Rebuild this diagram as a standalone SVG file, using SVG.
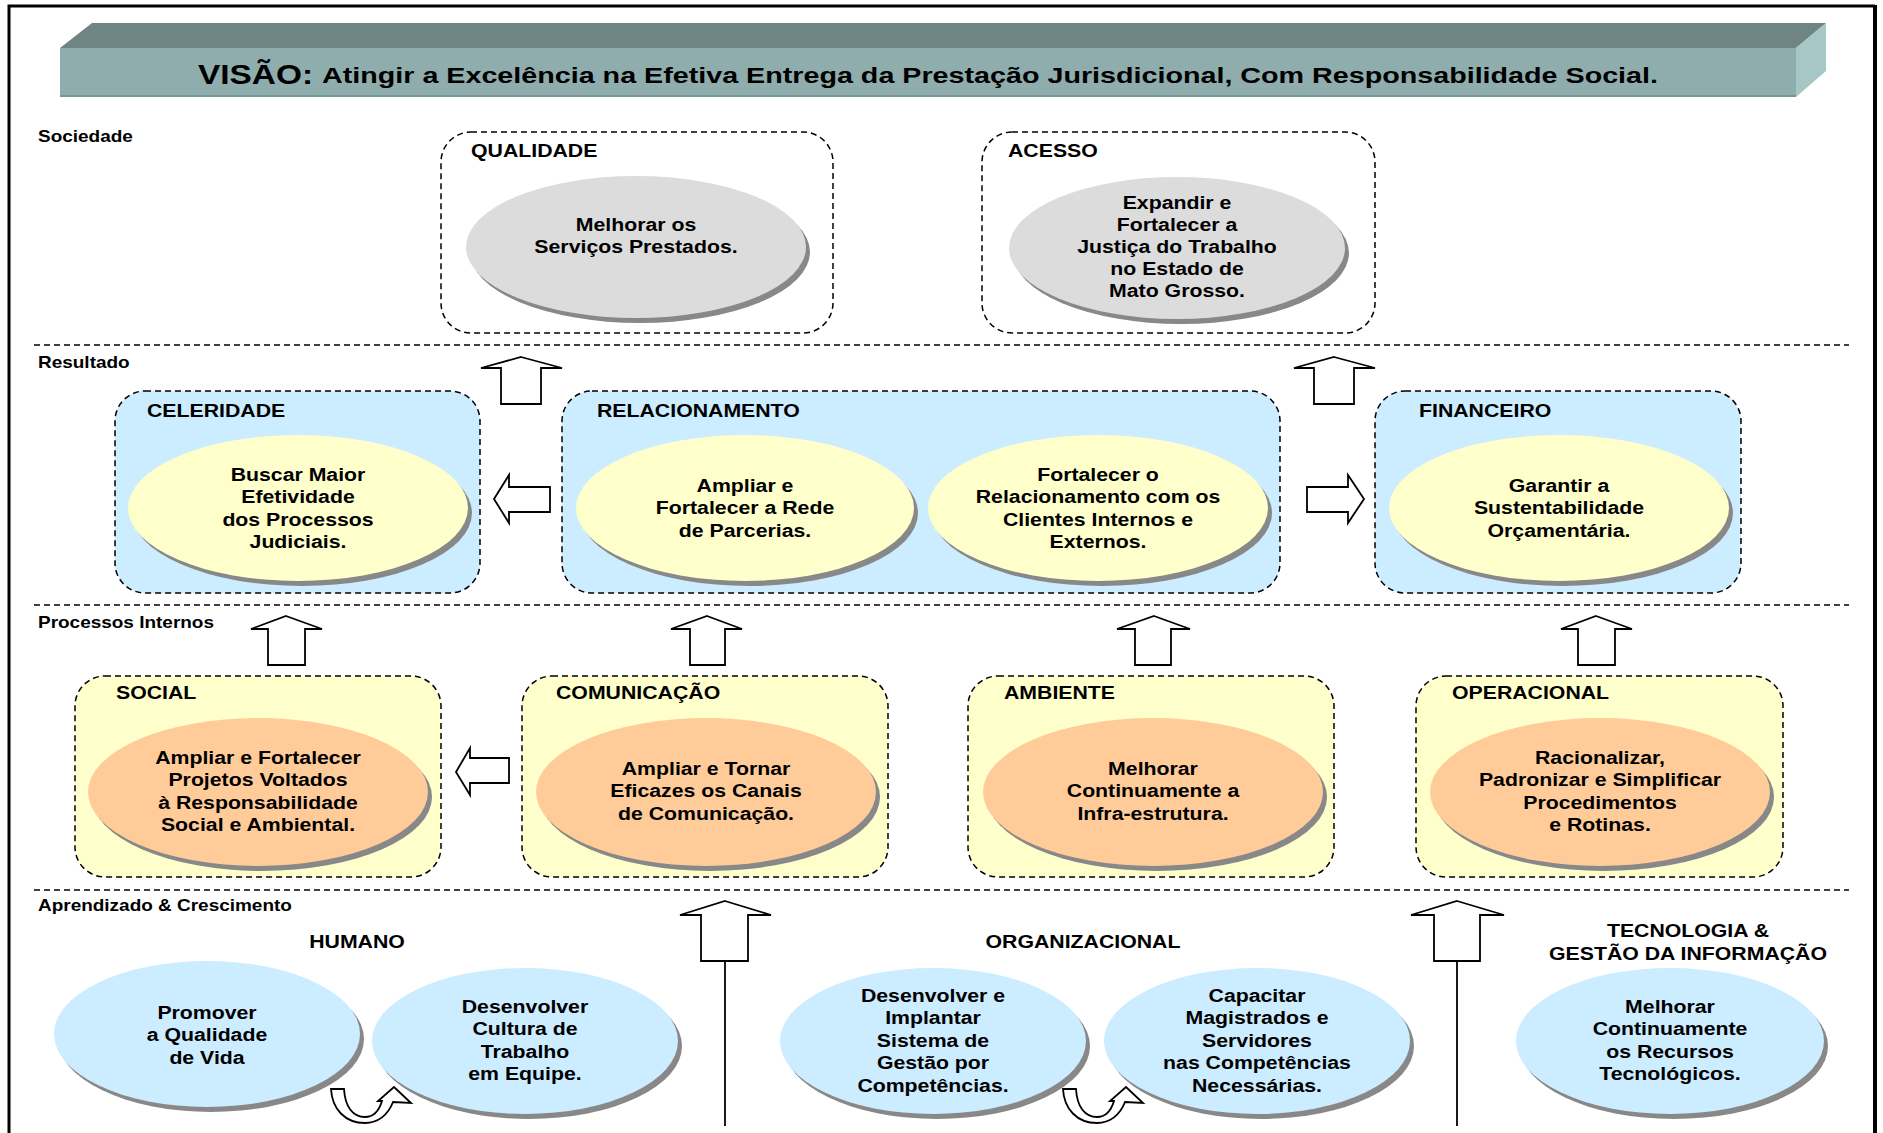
<svg xmlns="http://www.w3.org/2000/svg" width="1883" height="1133" viewBox="0 0 1883 1133">
<defs>
<style>
text{font-family:"Liberation Sans",Arial,sans-serif;font-weight:bold;fill:#000}
.c{font-size:18.5px;text-anchor:middle}
.l{font-size:18.5px}
.s{font-size:16.5px}
.box{stroke:#000;stroke-width:1.5;stroke-dasharray:6 4}
.blue{fill:#CCECFF}
.yel{fill:#FFFFCC}
.none{fill:none}
.sh{fill:#888}
.eg{fill:#DCDCDC}
.ey{fill:#FFFFCC}
.eo{fill:#FFCC99}
.eb{fill:#CCECFF}
.div{stroke:#000;stroke-width:1.5;stroke-dasharray:6 4}
.arr{fill:#fff;stroke:#000;stroke-width:1.8;stroke-linejoin:miter}
.ln{stroke:#000;stroke-width:1.8}
</style>
</defs>
<rect width="1883" height="1133" fill="#fff"/>
<path d="M9,1133 V6 H1875" fill="none" stroke="#000" stroke-width="3"/>
<line x1="1875" y1="5" x2="1875" y2="1133" stroke="#000" stroke-width="4"/>

<g id="visao">
<polygon points="92,23 1826,23 1796,48 60,48" fill="#6E8584"/>
<rect x="60" y="48" width="1736" height="49" fill="#8FADAD"/>
<line x1="60" y1="96" x2="1796" y2="96" stroke="#7A9797" stroke-width="2"/>
<polygon points="1796,48 1826,23 1826,71 1796,97" fill="#A7C7C7"/>
<text x="198" y="84" style="font-size:27px" textLength="115" lengthAdjust="spacingAndGlyphs">VISÃO:</text>
<text x="322" y="83" style="font-size:22px" textLength="1336" lengthAdjust="spacingAndGlyphs">Atingir a Excelência na Efetiva Entrega da Prestação Jurisdicional, Com Responsabilidade Social.</text>
</g>

<g id="secoes">
<text class="s" transform="translate(38,142) scale(1.15,1)">Sociedade</text>
<text class="s" transform="translate(38,368) scale(1.15,1)">Resultado</text>
<text class="s" transform="translate(38,628) scale(1.15,1)">Processos Internos</text>
<text class="s" transform="translate(38,911) scale(1.15,1)">Aprendizado &amp; Crescimento</text>
<line class="div" x1="34" y1="345" x2="1849" y2="345"/>
<line class="div" x1="34" y1="605" x2="1849" y2="605"/>
<line class="div" x1="34" y1="890" x2="1849" y2="890"/>
</g>

<g id="connectors">
<polygon class="arr" points="521,357 562,368 541,368 541,404 501,404 501,368 481,368"/>
<polygon class="arr" points="1334,357 1375,368 1354,368 1354,404 1314,404 1314,368 1294,368"/>
<polygon class="arr" points="494,499 509,475 509,487 550,487 550,512 509,512 509,523"/>
<polygon class="arr" points="1364,499 1348,475 1348,487 1307,487 1307,512 1348,512 1348,523"/>
<path class="arr" d="M861,439 C861,422 893,414 932,414 C963,414 993,421 1005,432 L1020,432 L990,440 L955,432 L969,432 C960,424 948,416 932,416 C910,416 895,426 893,439 Z"/>
<polygon class="arr" points="286,616 322,629 305,629 305,665 268,665 268,629 251,629"/>
<polygon class="arr" points="707,616 742,629 725,629 725,665 690,665 690,629 671,629"/>
<polygon class="arr" points="1154,616 1190,629 1171,629 1171,665 1135,665 1135,629 1117,629"/>
<polygon class="arr" points="1596,616 1632,629 1615,629 1615,665 1578,665 1578,629 1561,629"/>
<polygon class="arr" points="456,772 470,748 470,758 509,758 509,783 470,783 470,795"/>
<polygon class="arr" points="725,901 771,915 748,915 748,961 701,961 701,915 680,915"/>
<line class="ln" x1="725" y1="961" x2="725" y2="1126"/>
<polygon class="arr" points="1457,901 1504,915 1480,915 1480,961 1434,961 1434,915 1411,915"/>
<line class="ln" x1="1457" y1="961" x2="1457" y2="1126"/>
<path class="arr" transform="translate(331,1087)" d="M0,2 L13,2 C14,20 22,30 34,30 C42,30 48,24 51,14 L47,14 L63,0 L80,16 L62,15 C57,28 47,36 34,36 C14,36 1,22 0,2 Z"/>
<path class="arr" transform="translate(1063,1087)" d="M0,2 L13,2 C14,20 22,30 34,30 C42,30 48,24 51,14 L47,14 L63,0 L80,16 L62,15 C57,28 47,36 34,36 C14,36 1,22 0,2 Z"/>
</g>

<g id="qualidade">
<rect class="box none" x="441" y="132" width="392" height="201" rx="30"/>
<text class="l" transform="translate(471,157) scale(1.15,1)">QUALIDADE</text>
<ellipse class="sh" cx="640" cy="252" rx="170" ry="71"/>
<ellipse class="eg" cx="636" cy="247" rx="170" ry="71"/>
<text class="c" transform="translate(636,231) scale(1.15,1)"><tspan x="0" y="0">Melhorar os</tspan><tspan x="0" y="22">Serviços Prestados.</tspan></text>
</g>

<g id="acesso">
<rect class="box none" x="982" y="132" width="393" height="201" rx="30"/>
<text class="l" transform="translate(1008,157) scale(1.15,1)">ACESSO</text>
<ellipse class="sh" cx="1181" cy="253" rx="168" ry="71"/>
<ellipse class="eg" cx="1177" cy="248" rx="168" ry="71"/>
<text class="c" transform="translate(1177,209) scale(1.15,1)"><tspan x="0" y="0">Expandir e</tspan><tspan x="0" y="22">Fortalecer a</tspan><tspan x="0" y="44">Justiça do Trabalho</tspan><tspan x="0" y="66">no Estado de</tspan><tspan x="0" y="88">Mato Grosso.</tspan></text>
</g>

<g id="celeridade">
<rect class="box blue" x="115" y="391" width="365" height="202" rx="30"/>
<text class="l" transform="translate(147,417) scale(1.15,1)">CELERIDADE</text>
<ellipse class="sh" cx="302" cy="513" rx="170" ry="73"/>
<ellipse class="ey" cx="298" cy="508" rx="170" ry="73"/>
<text class="c" transform="translate(298,481) scale(1.15,1)"><tspan x="0" y="0">Buscar Maior</tspan><tspan x="0" y="22.5">Efetividade</tspan><tspan x="0" y="45">dos Processos</tspan><tspan x="0" y="67.5">Judiciais.</tspan></text>
</g>

<g id="relacionamento">
<rect class="box blue" x="562" y="391" width="718" height="202" rx="30"/>
<text class="l" transform="translate(597,417) scale(1.15,1)">RELACIONAMENTO</text>
<ellipse class="sh" cx="749" cy="513" rx="169" ry="73"/>
<ellipse class="ey" cx="745" cy="508" rx="169" ry="73"/>
<text class="c" transform="translate(745,492) scale(1.15,1)"><tspan x="0" y="0">Ampliar e</tspan><tspan x="0" y="22.5">Fortalecer a Rede</tspan><tspan x="0" y="45">de Parcerias.</tspan></text>
<ellipse class="sh" cx="1102" cy="513" rx="170" ry="73"/>
<ellipse class="ey" cx="1098" cy="508" rx="170" ry="73"/>
<text class="c" transform="translate(1098,481) scale(1.15,1)"><tspan x="0" y="0">Fortalecer o</tspan><tspan x="0" y="22.5">Relacionamento com os</tspan><tspan x="0" y="45">Clientes Internos e</tspan><tspan x="0" y="67.5">Externos.</tspan></text>
</g>

<g id="financeiro">
<rect class="box blue" x="1375" y="391" width="366" height="202" rx="30"/>
<text class="l" transform="translate(1419,417) scale(1.15,1)">FINANCEIRO</text>
<ellipse class="sh" cx="1563" cy="513" rx="170" ry="73"/>
<ellipse class="ey" cx="1559" cy="508" rx="170" ry="73"/>
<text class="c" transform="translate(1559,492) scale(1.15,1)"><tspan x="0" y="0">Garantir a</tspan><tspan x="0" y="22.5">Sustentabilidade</tspan><tspan x="0" y="45">Orçamentária.</tspan></text>
</g>

<g id="social">
<rect class="box yel" x="75" y="676" width="366" height="201" rx="30"/>
<text class="l" transform="translate(116,699) scale(1.15,1)">SOCIAL</text>
<ellipse class="sh" cx="262" cy="797" rx="170" ry="74"/>
<ellipse class="eo" cx="258" cy="792" rx="170" ry="74"/>
<text class="c" transform="translate(258,764) scale(1.15,1)"><tspan x="0" y="0">Ampliar e Fortalecer</tspan><tspan x="0" y="22.5">Projetos Voltados</tspan><tspan x="0" y="45">à Responsabilidade</tspan><tspan x="0" y="67.5">Social e Ambiental.</tspan></text>
</g>

<g id="comunicacao">
<rect class="box yel" x="522" y="676" width="366" height="201" rx="30"/>
<text class="l" transform="translate(556,699) scale(1.15,1)">COMUNICAÇÃO</text>
<ellipse class="sh" cx="710" cy="797" rx="170" ry="74"/>
<ellipse class="eo" cx="706" cy="792" rx="170" ry="74"/>
<text class="c" transform="translate(706,775) scale(1.15,1)"><tspan x="0" y="0">Ampliar e Tornar</tspan><tspan x="0" y="22.5">Eficazes os Canais</tspan><tspan x="0" y="45">de Comunicação.</tspan></text>
</g>

<g id="ambiente">
<rect class="box yel" x="968" y="676" width="366" height="201" rx="30"/>
<text class="l" transform="translate(1004,699) scale(1.15,1)">AMBIENTE</text>
<ellipse class="sh" cx="1157" cy="797" rx="170" ry="74"/>
<ellipse class="eo" cx="1153" cy="792" rx="170" ry="74"/>
<text class="c" transform="translate(1153,775) scale(1.15,1)"><tspan x="0" y="0">Melhorar</tspan><tspan x="0" y="22.5">Continuamente a</tspan><tspan x="0" y="45">Infra-estrutura.</tspan></text>
</g>

<g id="operacional">
<rect class="box yel" x="1416" y="676" width="367" height="201" rx="30"/>
<text class="l" transform="translate(1452,699) scale(1.15,1)">OPERACIONAL</text>
<ellipse class="sh" cx="1604" cy="797" rx="170" ry="74"/>
<ellipse class="eo" cx="1600" cy="792" rx="170" ry="74"/>
<text class="c" transform="translate(1600,764) scale(1.15,1)"><tspan x="0" y="0">Racionalizar,</tspan><tspan x="0" y="22.5">Padronizar e Simplificar</tspan><tspan x="0" y="45">Procedimentos</tspan><tspan x="0" y="67.5">e Rotinas.</tspan></text>
</g>

<g id="humano">
<text class="c" transform="translate(357,948) scale(1.15,1)">HUMANO</text>
<ellipse class="sh" cx="211" cy="1039" rx="153" ry="73"/>
<ellipse class="eb" cx="207" cy="1034" rx="153" ry="73"/>
<text class="c" transform="translate(207,1019) scale(1.15,1)"><tspan x="0" y="0">Promover</tspan><tspan x="0" y="22.5">a Qualidade</tspan><tspan x="0" y="45">de Vida</tspan></text>
<ellipse class="sh" cx="529" cy="1046" rx="153" ry="73"/>
<ellipse class="eb" cx="525" cy="1041" rx="153" ry="73"/>
<text class="c" transform="translate(525,1013) scale(1.15,1)"><tspan x="0" y="0">Desenvolver</tspan><tspan x="0" y="22.5">Cultura de</tspan><tspan x="0" y="45">Trabalho</tspan><tspan x="0" y="67.5">em Equipe.</tspan></text>
</g>

<g id="organizacional">
<text class="c" transform="translate(1083,948) scale(1.15,1)">ORGANIZACIONAL</text>
<ellipse class="sh" cx="937" cy="1046" rx="153" ry="73"/>
<ellipse class="eb" cx="933" cy="1041" rx="153" ry="73"/>
<text class="c" transform="translate(933,1002) scale(1.15,1)"><tspan x="0" y="0">Desenvolver e</tspan><tspan x="0" y="22.5">Implantar</tspan><tspan x="0" y="45">Sistema de</tspan><tspan x="0" y="67.5">Gestão por</tspan><tspan x="0" y="90">Competências.</tspan></text>
<ellipse class="sh" cx="1261" cy="1046" rx="153" ry="73"/>
<ellipse class="eb" cx="1257" cy="1041" rx="153" ry="73"/>
<text class="c" transform="translate(1257,1002) scale(1.15,1)"><tspan x="0" y="0">Capacitar</tspan><tspan x="0" y="22.5">Magistrados e</tspan><tspan x="0" y="45">Servidores</tspan><tspan x="0" y="67.5">nas Competências</tspan><tspan x="0" y="90">Necessárias.</tspan></text>
</g>

<g id="tecnologia">
<text class="c" transform="translate(1688,937) scale(1.15,1)"><tspan x="0" y="0">TECNOLOGIA &amp;</tspan><tspan x="0" y="23">GESTÃO DA INFORMAÇÃO</tspan></text>
<ellipse class="sh" cx="1674" cy="1046" rx="154" ry="73"/>
<ellipse class="eb" cx="1670" cy="1041" rx="154" ry="73"/>
<text class="c" transform="translate(1670,1013) scale(1.15,1)"><tspan x="0" y="0">Melhorar</tspan><tspan x="0" y="22.5">Continuamente</tspan><tspan x="0" y="45">os Recursos</tspan><tspan x="0" y="67.5">Tecnológicos.</tspan></text>
</g>
</svg>
